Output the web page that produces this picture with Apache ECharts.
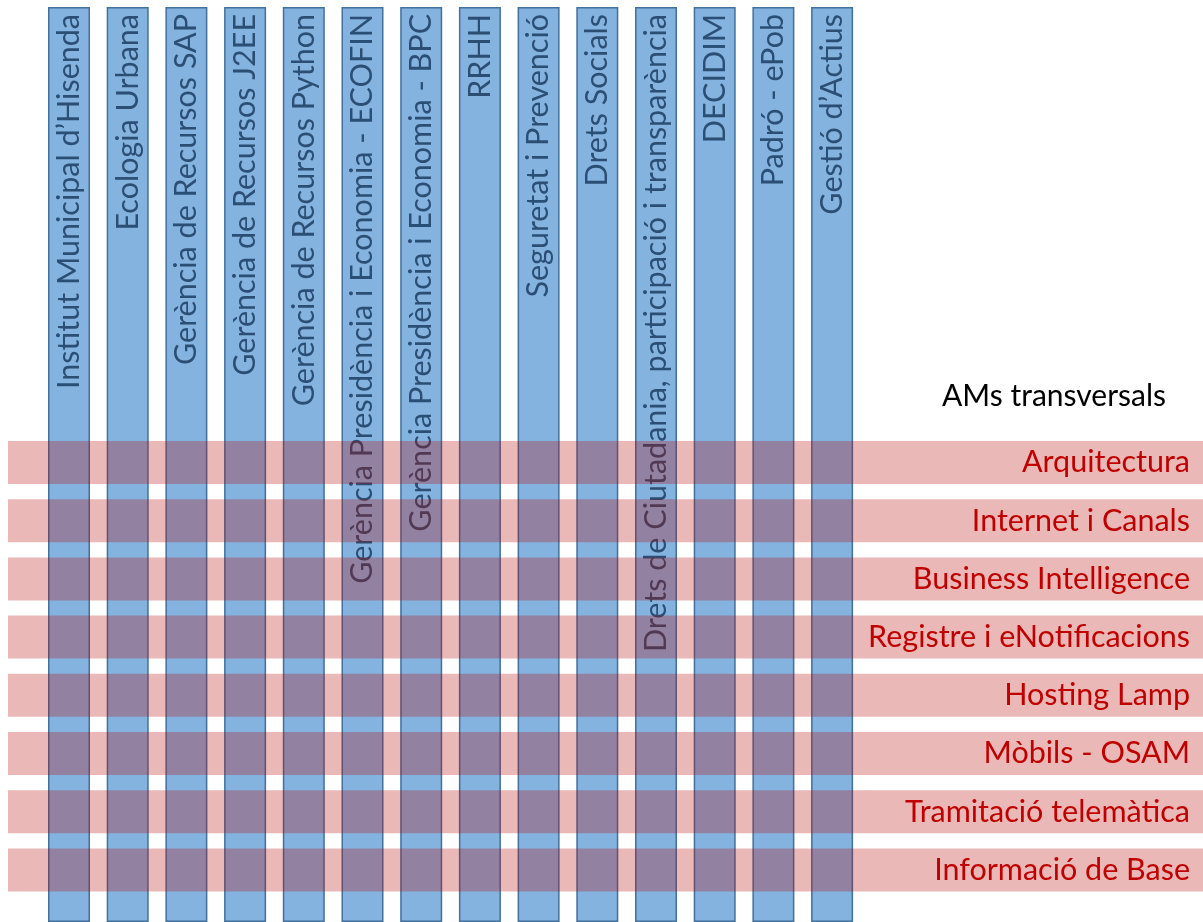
<!DOCTYPE html>
<html>
<head>
<meta charset="utf-8">
<script src="https://cdn.jsdelivr.net/npm/echarts@6/dist/echarts.min.js"></script>
<style>html,body{margin:0;padding:0;background:#fff}#c{width:1203px;height:922px}</style>
</head>
<body>
<div id="c"></div>
<script>
const columns = [
  "Institut Municipal d\u2019Hisenda",
  "Ecologia Urbana",
  "Gerència de Recursos SAP",
  "Gerència de Recursos J2EE",
  "Gerència de Recursos Python",
  "Gerència Presidència i Economia - ECOFIN",
  "Gerència Presidència i Economia - BPC",
  "RRHH",
  "Seguretat i Prevenció",
  "Drets Socials",
  "Drets de Ciutadania, participació i transparència",
  "DECIDIM",
  "Padró - ePob",
  "Gestió d\u2019Actius"
];
const columnValues = [1,1,1,1,1,1,1,1,1,1,1,1,1,1];
const rows = [
  "Arquitectura",
  "Internet i Canals",
  "Business Intelligence",
  "Registre i eNotificacions",
  "Hosting Lamp",
  "Mòbils - OSAM",
  "Tramitació telemàtica",
  "Informació de Base"
];
const rowValues = [1,1,1,1,1,1,1,1];
const headerText = "AMs transversals";

const FONT = "Lato";
const chart = echarts.init(document.getElementById('c'), null, {renderer: 'canvas'});
chart.setOption({
  animation: false,
  backgroundColor: '#ffffff',
  title: {
    text: headerText,
    right: 37, top: 381, padding: 0,
    textStyle: {fontFamily: FONT, fontSize: 30, fontWeight: 'normal', color: '#000000'}
  },
  grid: [
    {left: 39.65, top: 7, width: 821.8, bottom: -20, containLabel: false},
    {left: 8, right: 0, top: 433.4, height: 465.6, containLabel: false}
  ],
  xAxis: [
    {gridIndex: 0, type: 'category', data: columns, show: false},
    {gridIndex: 1, type: 'value', min: 0, max: 1, show: false}
  ],
  yAxis: [
    {gridIndex: 0, type: 'value', min: 0, max: 1, show: false},
    {gridIndex: 1, type: 'category', data: rows, inverse: true, show: false}
  ],
  series: [
    {
      type: 'bar', xAxisIndex: 0, yAxisIndex: 0, data: columnValues, barWidth: 42, z: 2,
      itemStyle: {color: '#85B3E0', borderColor: '#41719C', borderWidth: 1.5},
      label: {
        show: true, position: 'insideTop', distance: 7, rotate: 90,
        align: 'right', verticalAlign: 'middle',
        formatter: p => p.name,
        fontFamily: FONT, fontSize: 30.5, color: '#2B4F74'
      }
    },
    {
      type: 'bar', xAxisIndex: 1, yAxisIndex: 1, data: rowValues, barWidth: 43, z: 3,
      itemStyle: {color: 'rgba(183,0,0,0.28)', borderWidth: 0},
      label: {
        show: true, position: 'insideRight', distance: 13,
        padding: [6, 0, 0, 0],
        formatter: p => p.name,
        fontFamily: FONT, fontSize: 30.5, color: '#C00000'
      }
    }
  ]
});
</script>
</body>
</html>
